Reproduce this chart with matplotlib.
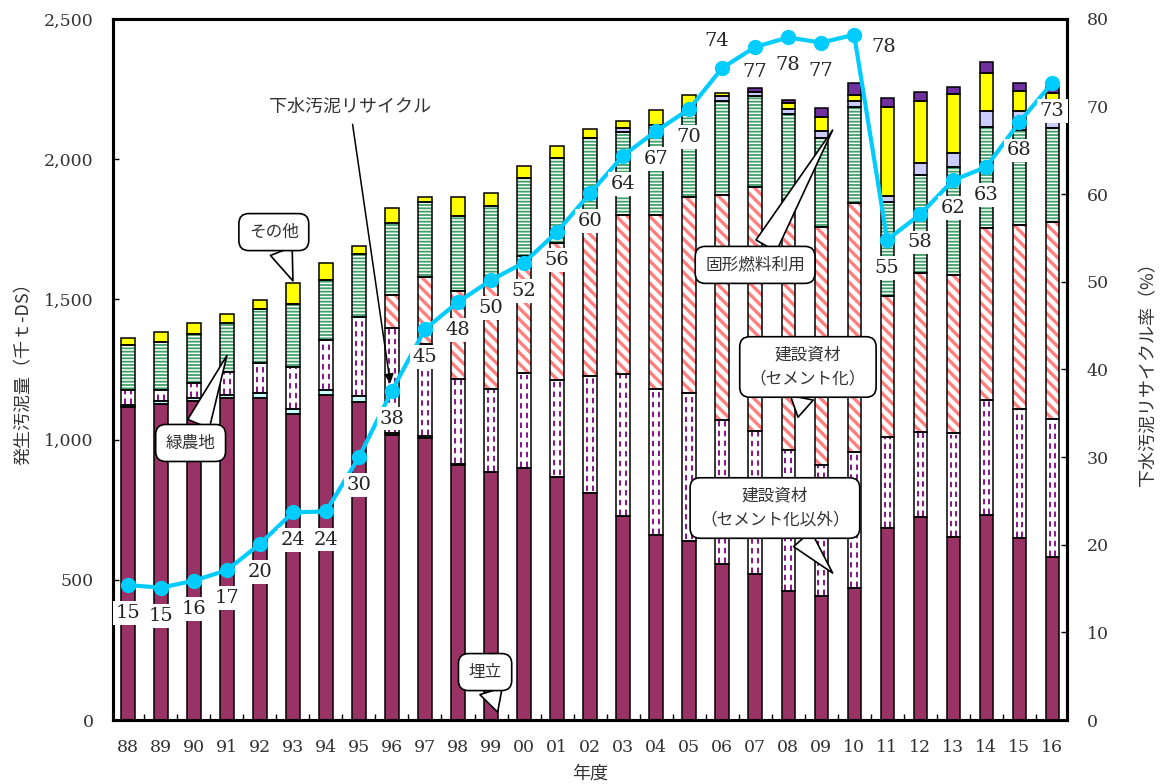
import matplotlib

matplotlib.use("Agg")
import matplotlib.pyplot as plt
import numpy as np
from matplotlib.ticker import FuncFormatter, MultipleLocator

plt.rcParams["font.family"] = ["Noto Sans CJK JP", "DejaVu Sans"]
plt.rcParams["hatch.linewidth"] = 2.0

# fiscal years (1988 - 2016)
years = ["88", "89", "90", "91", "92", "93", "94", "95", "96", "97",
         "98", "99", "00", "01", "02", "03", "04", "05", "06", "07",
         "08", "09", "10", "11", "12", "13", "14", "15", "16"]

# generated sludge by destination (thousand t-DS)
landfill = [1115, 1127, 1138, 1150, 1147, 1091, 1159, 1135, 1016, 1005,
            909, 883, 900, 868, 811, 728, 660, 640, 556, 520,
            460, 443, 472, 684, 725, 651, 730, 648, 580]
minor_use = [8, 12, 9, 9, 18, 18, 18, 20, 6, 8,
             3, 0, 0, 0, 0, 0, 0, 0, 0, 0,
             0, 0, 0, 0, 0, 0, 0, 0, 0]
material_other = [54, 38, 54, 83, 107, 149, 178, 283, 377, 327,
                  304, 297, 336, 345, 416, 505, 519, 526, 514, 511,
                  502, 468, 483, 324, 303, 371, 411, 462, 493]
material_cement = [0, 0, 0, 0, 0, 0, 0, 0, 117, 239,
                   315, 371, 419, 487, 553, 568, 622, 698, 802, 869,
                   893, 848, 887, 503, 567, 565, 613, 655, 704]
green_farm = [160, 172, 176, 175, 193, 226, 214, 224, 258, 269,
              268, 282, 279, 306, 297, 295, 321, 323, 337, 325,
              305, 315, 343, 337, 349, 386, 362, 339, 333]
solid_fuel = [0, 0, 0, 0, 0, 0, 0, 0, 0, 0,
              0, 0, 0, 0, 0, 14, 0, 0, 16, 16,
              19, 27, 23, 21, 41, 48, 57, 68, 40]
others = [26, 36, 38, 31, 33, 76, 60, 29, 51, 16,
          65, 45, 43, 42, 29, 27, 53, 42, 11, 0,
          20, 48, 21, 316, 224, 210, 133, 71, 85]
energy_use = [0, 0, 0, 0, 0, 0, 0, 0, 0, 0,
              0, 0, 0, 0, 0, 0, 0, 0, 0, 12,
              12, 32, 41, 34, 32, 28, 39, 30, 24]

# sewage sludge recycling rate (%)
recycle_rate = [15.4, 15.1, 15.9, 17.1, 20.1, 23.7, 23.8, 30.0, 37.6, 44.6,
                47.7, 50.2, 52.2, 55.7, 60.1, 64.4, 67.2, 69.7, 74.4, 76.8,
                77.9, 77.3, 78.2, 54.8, 57.7, 61.6, 63.1, 68.2, 72.7]

serif = "DejaVu Serif"
text_color = "#333333"

fig = plt.figure(figsize=(11.63, 7.84), dpi=100)
ax = fig.add_axes([0.0972, 0.0816, 0.8203, 0.8942])
ax2 = ax.twinx()

x = np.arange(len(years))
width = 0.4

# (values, face colour, hatch, hatch colour, hatch line width)
layers = [
    (landfill, "#993366", None, None, 0),
    (minor_use, "#CCFFFF", None, None, 0),
    (material_other, "white", "dash", "#800080", 0),
    (material_cement, "white", "\\\\\\", "#FF7F7F", 2.4),
    (green_farm, "white", "-----", "#3F9F68", 1.3),
    (solid_fuel, "#CCCCFF", None, None, 0),
    (others, "#FFFF00", None, None, 0),
    (energy_use, "#7030A0", None, None, 0),
]

bottom = np.zeros(len(years))
for values, face, hatch, hatch_color, hatch_lw in layers:
    values = np.asarray(values, dtype=float)
    mask = values > 0
    xs, vs, bs = x[mask], values[mask], bottom[mask]
    if hatch and hatch != "dash":
        with plt.rc_context({"hatch.linewidth": hatch_lw}):
            ax.bar(xs, vs, width, bottom=bs, color=face, edgecolor=hatch_color,
                   hatch=hatch, linewidth=0, zorder=2)
    else:
        ax.bar(xs, vs, width, bottom=bs, color=face, linewidth=0, zorder=2)
    if hatch == "dash":
        for dx in (-width / 5, width / 5):
            ax.vlines(xs + dx, bs + 4, bs + vs - 4, colors=hatch_color,
                      linestyles=(0, (3.0, 2.4)), linewidth=1.3, zorder=2.5)
    ax.bar(xs, vs, width, bottom=bs, fill=False, edgecolor="black",
           linewidth=1.1, zorder=3)
    bottom += values

ax.set_xlim(-0.45, len(years) - 0.55)
ax.set_ylim(0, 2500)
ax.yaxis.set_major_locator(MultipleLocator(500))
ax.yaxis.set_major_formatter(FuncFormatter(lambda v, _: f"{int(v):,}"))
ax.set_xticks(x, labels=years)
ax.set_xticks(x[:-1] + 0.5, minor=True)
ax.tick_params(axis="x", which="major", length=0, pad=14)
ax.tick_params(axis="x", which="minor", direction="in", length=4, width=1)
ax.tick_params(axis="y", direction="in", length=4, width=1, pad=14)
for lab in ax.get_xticklabels() + ax.get_yticklabels():
    lab.set_fontfamily(serif)
    lab.set_fontsize(12.5)
    lab.set_color(text_color)

ax2.set_ylim(0, 80)
ax2.yaxis.set_major_locator(MultipleLocator(10))
ax2.tick_params(axis="y", direction="in", length=4, width=1, pad=14)
for lab in ax2.get_yticklabels():
    lab.set_fontfamily(serif)
    lab.set_fontsize(12.5)
    lab.set_color(text_color)

for a in (ax, ax2):
    for spine in a.spines.values():
        spine.set_linewidth(2.2)

ax.set_xlabel("年度", fontsize=13, color=text_color, labelpad=6)
ax.set_ylabel("発生汚泥量（千ｔ-DS）", fontsize=13, color=text_color, labelpad=8)
ax2.set_ylabel("下水汚泥リサイクル率（%）", fontsize=13, color=text_color, labelpad=22)

ax2.plot(x, recycle_rate, color="#00CCFF", linewidth=3, marker="o",
         markersize=10, zorder=5)

label_shift = {18: (-0.15, 3.1), 22: (0.9, -1.4), 19: (0.0, -2.8)}
for i, rate in enumerate(recycle_rate):
    dx, dy = label_shift.get(i, (0.0, -3.2))
    ax2.text(x[i] + dx, rate + dy, f"{rate:.0f}", ha="center", va="center",
             fontsize=14, fontfamily=serif, color="#222222", zorder=6,
             bbox=dict(boxstyle="square,pad=0.15", fc="white", ec="none"))

callout = dict(boxstyle="round,pad=0.6,rounding_size=0.6", fc="white",
               ec="black", lw=1.2)
wedge = dict(arrowstyle="wedge,tail_width=1.4,shrink_factor=0.5", fc="white",
             ec="black", lw=1.2, shrinkA=0, shrinkB=0)

notes = [
    ("その他", (5.0, 1566), (4.42, 1740)),
    ("緑農地", (3.0, 1300), (1.9, 988)),
    ("固形燃料利用", (21.35, 2104), (19.0, 1623)),
    ("建設資材\n（セメント化）", (20.3, 1080), (20.6, 1259)),
    ("建設資材\n（セメント化以外）", (21.35, 524), (19.6, 756)),
    ("埋立", (11.2, 28), (10.82, 171)),
]
for text, xy, xytext in notes:
    ax2.annotate(text, xy=xy, xycoords=ax.transData, xytext=xytext,
                 textcoords=ax.transData, ha="center", va="center",
                 fontsize=12, color=text_color, linespacing=1.5,
                 bbox=callout, arrowprops=wedge, zorder=7)

ax2.annotate("下水汚泥リサイクル", xy=(7.95, 1200), xycoords=ax.transData,
             xytext=(6.73, 2186), textcoords=ax.transData, ha="center",
             va="center", fontsize=13, color=text_color, zorder=7,
             arrowprops=dict(arrowstyle="-|>", color="black", lw=1.1,
                             mutation_scale=14, shrinkA=4, shrinkB=0))

fig.savefig("out.png", dpi=100)
